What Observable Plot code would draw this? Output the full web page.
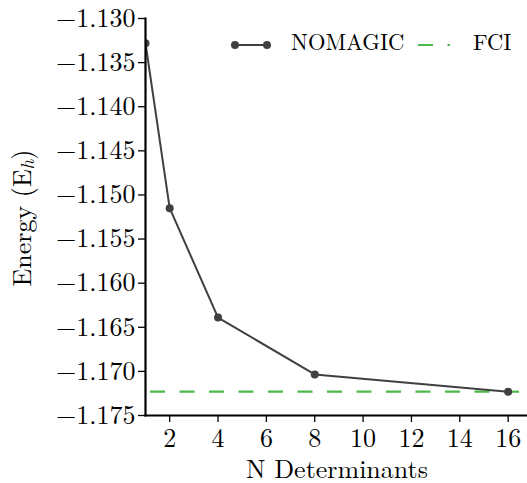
<!DOCTYPE html>
<html>
<head>
<meta charset="utf-8">
<script src="https://cdn.jsdelivr.net/npm/d3@7"></script>
<script src="https://cdn.jsdelivr.net/npm/@observablehq/plot@0.6"></script>
<style>
  html, body { margin: 0; padding: 0; background: white; }
  svg text, svg tspan { font-family: "Latin Modern Roman", "Liberation Serif", serif !important; }
</style>
</head>
<body>
<div id="chart"></div>
<script>
const nDeterminants = [1, 2, 4, 8, 16];
const nomagicEnergy = [-1.1328, -1.1515, -1.1639, -1.17035, -1.1723];
const fciEnergy = -1.1723;
const xTicks = [2, 4, 6, 8, 10, 12, 14, 16];
const yTicks = [-1.130, -1.135, -1.140, -1.145, -1.150, -1.155, -1.160, -1.165, -1.170, -1.175];
const seriesNames = ["NOMAGIC", "FCI"];
const xLabel = "N Determinants";

const data = nDeterminants.map((n, i) => ({n, e: nomagicEnergy[i]}));
const lineColor = "#404040";
const fciColor = "#4db84a";
const font = "Latin Modern Roman";

const chart = Plot.plot({
  width: 527,
  height: 483,
  marginLeft: 145,
  marginRight: 0,
  marginTop: 18,
  marginBottom: 68,
  style: {fontSize: "26px", background: "white", color: "black", overflow: "visible"},
  x: {domain: [1, 16.8], ticks: xTicks, label: null},
  y: {domain: [-1.175, -1.130], ticks: yTicks, tickFormat: d3.format(".3f"), label: null},
  marks: [
    Plot.ruleY([fciEnergy], {stroke: fciColor, strokeWidth: 2.2, strokeDasharray: "15,14.5", strokeDashoffset: 24.5}),
    Plot.line(data, {x: "n", y: "e", stroke: lineColor, strokeWidth: 2, clip: true}),
    Plot.dot(data, {x: "n", y: "e", r: 4, fill: lineColor, stroke: "none", clip: true}),
    Plot.axisX({ticks: xTicks, tickSize: 7, tickPadding: 6, strokeWidth: 1.3, fontSize: 26, label: null}),
    Plot.axisY({ticks: yTicks, tickSize: 7, tickPadding: 3, strokeWidth: 1.3, fontSize: 26, tickFormat: d3.format(".3f"), label: null}),
    Plot.frame({anchor: "left", strokeWidth: 2.2}),
    Plot.frame({anchor: "bottom", strokeWidth: 2.2})
  ]
});

chart.setAttribute("font-family", font);
document.getElementById("chart").appendChild(chart);

const svg = d3.select(chart);

// X label
svg.append("text")
  .attr("x", 337).attr("y", 478)
  .attr("text-anchor", "middle")
  .attr("font-family", font).attr("font-size", 26).attr("fill", "black")
  .text(xLabel);

// Y label with subscript
const yl = svg.append("text")
  .attr("transform", "translate(25,218) rotate(-90)")
  .attr("text-anchor", "middle").attr("dominant-baseline", "middle")
  .attr("font-family", font).attr("font-size", 26).attr("fill", "black");
yl.append("tspan").text("Energy (E");
yl.append("tspan").attr("font-style", "italic").attr("font-size", 19).attr("dy", 5).text("h");
yl.append("tspan").attr("dy", -5).text(")");

// Legend
const lg = svg.append("g");
const ly = 45;
lg.append("line").attr("x1", 235).attr("x2", 267).attr("y1", ly).attr("y2", ly)
  .attr("stroke", lineColor).attr("stroke-width", 2);
lg.selectAll("circle").data([235, 267]).join("circle")
  .attr("cx", d => d).attr("cy", ly).attr("r", 4).attr("fill", lineColor);
lg.append("text").attr("x", 291).attr("y", ly).attr("text-anchor", "start").attr("dominant-baseline", "middle")
  .attr("font-family", font).attr("font-size", 22.5).attr("fill", "black").text(seriesNames[0]);
lg.append("line").attr("x1", 418).attr("x2", 450).attr("y1", ly).attr("y2", ly)
  .attr("stroke", fciColor).attr("stroke-width", 2.2).attr("stroke-dasharray", "15,14.5");
lg.append("text").attr("x", 473).attr("y", ly).attr("text-anchor", "start").attr("dominant-baseline", "middle")
  .attr("font-family", font).attr("font-size", 22.5).attr("fill", "black").text(seriesNames[1]);
</script>
</body>
</html>
